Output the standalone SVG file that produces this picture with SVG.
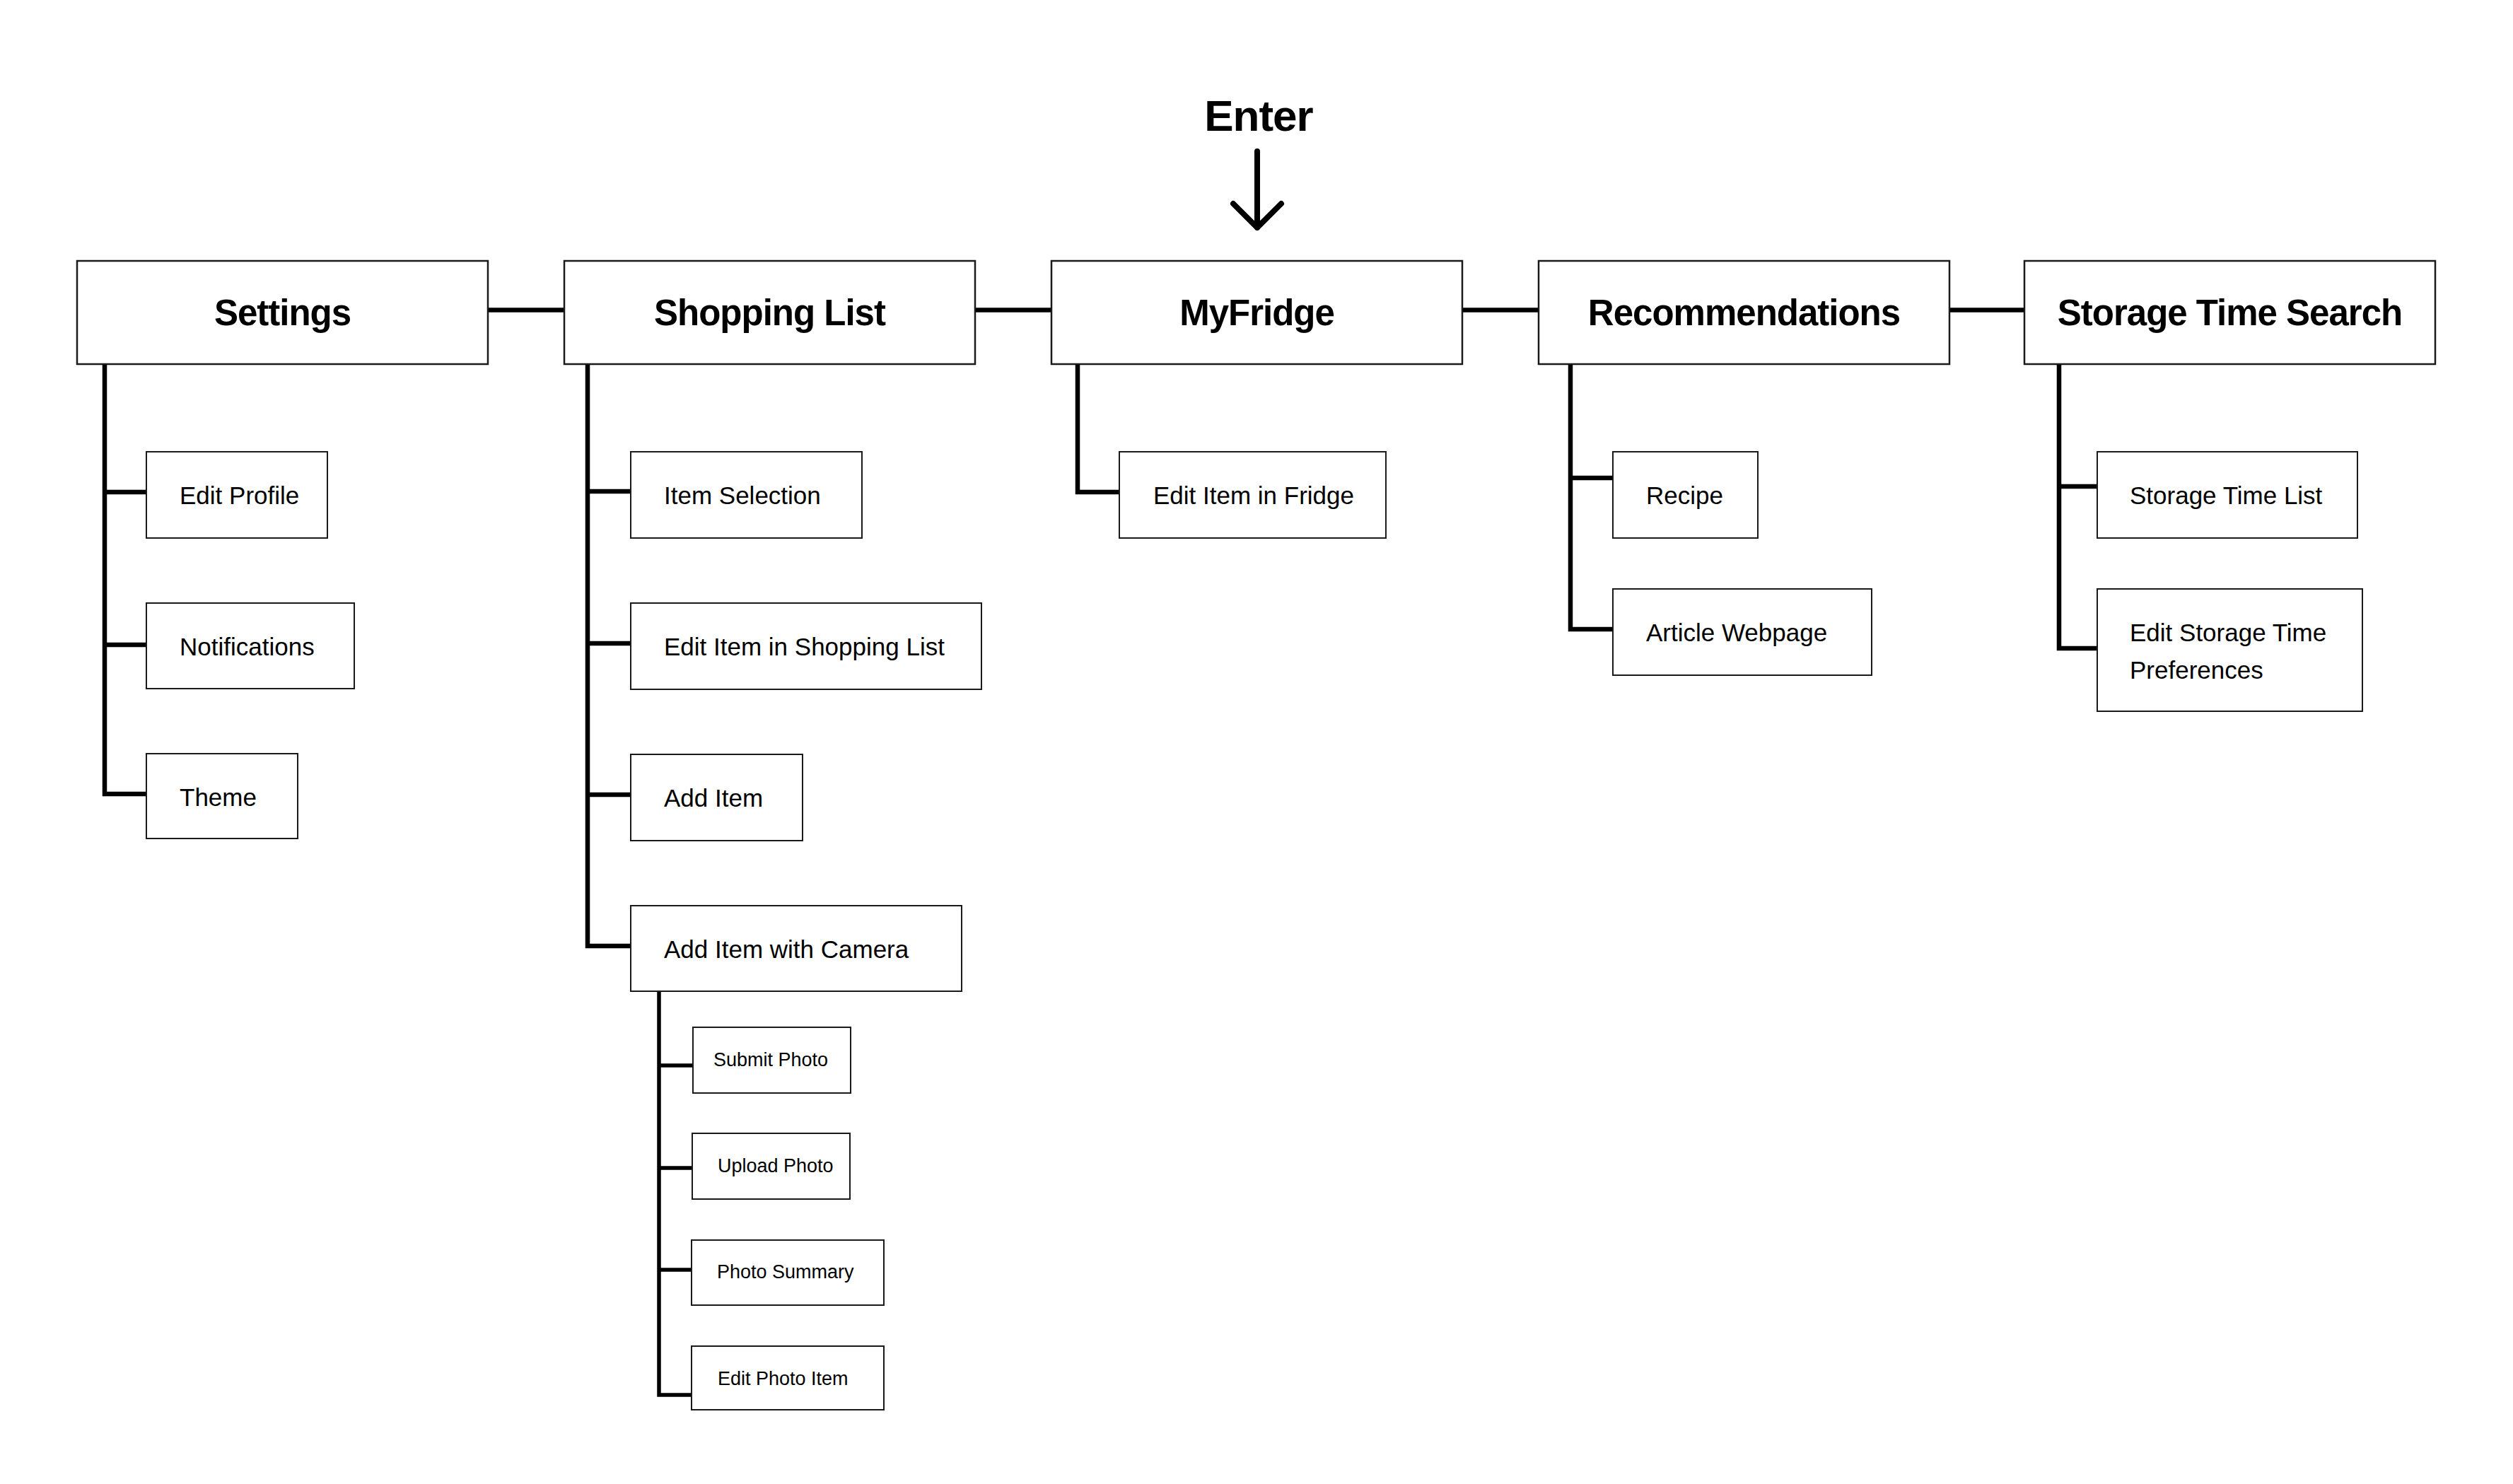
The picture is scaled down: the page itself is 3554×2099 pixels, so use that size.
<svg xmlns="http://www.w3.org/2000/svg" width="3554" height="2099" viewBox="0 0 3554 2099">
<style>
.bg{fill:#ffffff}
.main rect{fill:#ffffff;stroke:#1a1a1a;stroke-width:2.5}
.child rect{fill:#ffffff;stroke:#1a1a1a;stroke-width:2}
.ht{font-family:"Liberation Sans",Arial,sans-serif;font-weight:bold;font-size:51px;fill:#000;text-anchor:middle;letter-spacing:-1px}
.ct{font-family:"Liberation Sans",Arial,sans-serif;font-size:35px;fill:#000}
.st{font-family:"Liberation Sans",Arial,sans-serif;font-size:27px;fill:#000}
.conn path,.conn line{fill:none;stroke:#000;stroke-width:6.5;stroke-linejoin:miter;stroke-linecap:butt}
.conn .thin{stroke-width:5.5}
.arrow{fill:none;stroke:#000;stroke-width:8;stroke-linecap:round;stroke-linejoin:round}
</style>
<rect class="bg" x="0" y="0" width="3554" height="2099"/>

<g id="enter">
<text x="1780" y="185" style="font-family:'Liberation Sans',Arial,sans-serif;font-weight:bold;font-size:62px;text-anchor:middle;letter-spacing:-1px">Enter</text>
<path class="arrow" d="M1778,214 V322 M1744,288 L1778,322 L1812,288"/>
</g>

<g class="conn" id="connectors">
<line x1="690" y1="438.5" x2="798" y2="438.5"/>
<line x1="1379" y1="438.5" x2="1487" y2="438.5"/>
<line x1="2068" y1="438.5" x2="2176" y2="438.5"/>
<line x1="2757" y1="438.5" x2="2863" y2="438.5"/>

<path d="M148,515 V1123 H207"/>
<line x1="148" y1="696" x2="207" y2="696"/>
<line x1="148" y1="912" x2="207" y2="912"/>

<path d="M831,515 V1338 H892"/>
<line x1="831" y1="695" x2="892" y2="695"/>
<line x1="831" y1="910" x2="892" y2="910"/>
<line x1="831" y1="1124" x2="892" y2="1124"/>

<path d="M1524,515 V696 H1583"/>

<path d="M2221,515 V890 H2281"/>
<line x1="2221" y1="676" x2="2281" y2="676"/>

<path d="M2912,515 V917 H2966"/>
<line x1="2912" y1="688" x2="2966" y2="688"/>

<path class="thin" d="M932,1402 V1973 H978"/>
<line class="thin" x1="932" y1="1507" x2="980" y2="1507"/>
<line class="thin" x1="932" y1="1652" x2="979" y2="1652"/>
<line class="thin" x1="932" y1="1796" x2="978" y2="1796"/>
</g>

<g class="main">
<g id="settings"><rect x="109" y="369" width="581" height="146"/><text class="ht" x="399.5" y="460">Settings</text></g>
<g id="shopping-list"><rect x="798" y="369" width="581" height="146"/><text class="ht" x="1088.5" y="460">Shopping List</text></g>
<g id="myfridge"><rect x="1487" y="369" width="581" height="146"/><text class="ht" x="1777.5" y="460">MyFridge</text></g>
<g id="recommendations"><rect x="2176" y="369" width="581" height="146"/><text class="ht" x="2466.5" y="460">Recommendations</text></g>
<g id="storage-time-search"><rect x="2863" y="369" width="581" height="146"/><text class="ht" x="3153.5" y="460">Storage Time Search</text></g>
</g>

<g class="child">
<g id="edit-profile"><rect x="207" y="639" width="256" height="122"/><text class="ct" x="254" y="713">Edit Profile</text></g>
<g id="notifications"><rect x="207" y="853" width="294" height="121"/><text class="ct" x="254" y="927">Notifications</text></g>
<g id="theme"><rect x="207" y="1066" width="214" height="120"/><text class="ct" x="254" y="1140">Theme</text></g>

<g id="item-selection"><rect x="892" y="639" width="327" height="122"/><text class="ct" x="939" y="713">Item Selection</text></g>
<g id="edit-item-shopping"><rect x="892" y="853" width="496" height="122"/><text class="ct" x="939" y="927">Edit Item in Shopping List</text></g>
<g id="add-item"><rect x="892" y="1067" width="243" height="122"/><text class="ct" x="939" y="1141">Add Item</text></g>
<g id="add-item-camera"><rect x="892" y="1281" width="468" height="121"/><text class="ct" x="939" y="1355">Add Item with Camera</text></g>

<g id="edit-item-fridge"><rect x="1583" y="639" width="377" height="122"/><text class="ct" x="1631" y="713">Edit Item in Fridge</text></g>

<g id="recipe"><rect x="2281" y="639" width="205" height="122"/><text class="ct" x="2328" y="713">Recipe</text></g>
<g id="article-webpage"><rect x="2281" y="833" width="366" height="122"/><text class="ct" x="2328" y="907">Article Webpage</text></g>

<g id="storage-time-list"><rect x="2966" y="639" width="368" height="122"/><text class="ct" x="3012" y="713">Storage Time List</text></g>
<g id="edit-storage-prefs"><rect x="2966" y="833" width="375" height="173"/><text class="ct" x="3012" y="907">Edit Storage Time</text><text class="ct" x="3012" y="960">Preferences</text></g>

<g id="submit-photo"><rect x="980" y="1453" width="223" height="93"/><text class="st" x="1009" y="1508">Submit Photo</text></g>
<g id="upload-photo"><rect x="979" y="1603" width="223" height="93"/><text class="st" x="1015" y="1658">Upload Photo</text></g>
<g id="photo-summary"><rect x="978" y="1754" width="272" height="92"/><text class="st" x="1014" y="1808">Photo Summary</text></g>
<g id="edit-photo-item"><rect x="978" y="1904" width="272" height="90"/><text class="st" x="1015" y="1959">Edit Photo Item</text></g>
</g>
</svg>
